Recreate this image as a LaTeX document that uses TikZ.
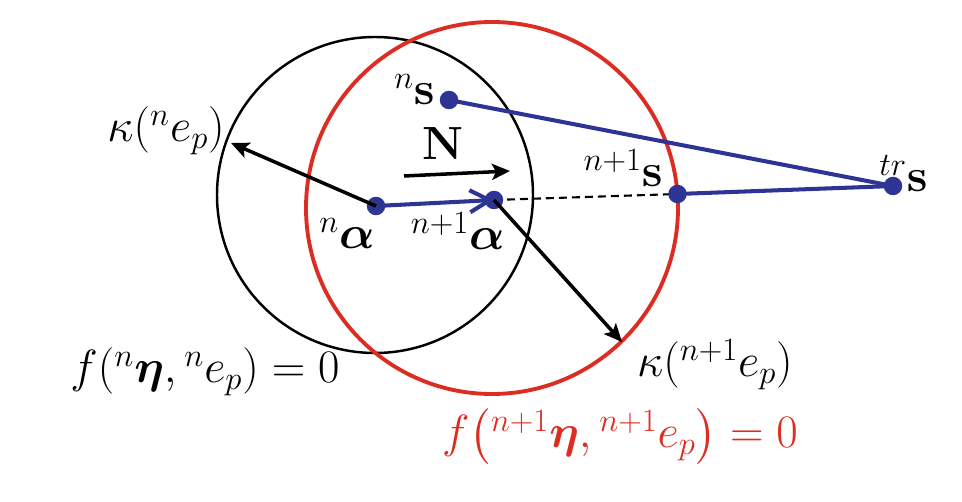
\documentclass[tikz,border=0pt]{standalone}
\usepackage{fix-cm}
\usepackage{xcolor}
\usepackage{tikz}
\usetikzlibrary{arrows.meta, positioning, calc}
\usepackage{amsmath, amssymb, bm}
\definecolor{surfred}{RGB}{221,45,35}
\definecolor{ptblue}{RGB}{46,52,148}
\tikzset{ptdot/.style={circle,fill=ptblue,inner sep=0pt,minimum size=0.37cm},
         lbl/.style={inner sep=0pt,font=\fontsize{26.5}{30}\selectfont},
         oldsurf/.style={draw,line width=1.4pt},
         newsurf/.style={draw=surfred,line width=2.2pt},
         bluepath/.style={draw=ptblue,line width=2.3pt},
         trial/.style={draw,line width=1.2pt,dash pattern=on 0.16cm off 0.1cm},
         arrow/.style={-{Stealth[length=3.6mm,width=3.2mm,inset=0.8mm]},line width=2pt},
         bluearrow/.style={-{Straight Barb[length=4mm,width=4.4mm,line width=2.3pt]},draw=ptblue,line width=2.3pt}}

\begin{document}
\begin{tikzpicture}
    \useasboundingbox (0,0) rectangle (19.24,10.04);
    % points
    \coordinate (cold) at (7.50,6.14);
    \coordinate (cnew) at (9.84,5.88);
    \coordinate (ns) at (8.98,8.04);
    \coordinate (trs) at (17.86,6.32);
    \coordinate (n1s) at (13.55,6.16);
    \coordinate (na) at (7.52,5.92);
    \coordinate (n1a) at (9.88,6.04);
    \coordinate (ktip) at (4.62,7.18);
    \coordinate (k1tip) at (12.44,3.20);
    \coordinate (Nstart) at (8.08,6.52);
    \coordinate (Nend) at (10.20,6.62);
    % yield surfaces
    \draw[oldsurf] (cold) circle[radius=3.16];
    \draw[newsurf] (cnew) circle[radius=3.72];
    % return path
    \draw[bluepath] (ns) -- (trs);
    \draw[bluepath] (trs) -- (n1s);
    \draw[trial] (n1a) -- (n1s);
    \draw[bluearrow] (na) -- (n1a);
    \foreach \p in {ns,trs,n1s,na,n1a}
      \node[ptdot] (\p dot) at (\p) {};
    \draw[arrow] (na) -- (ktip);
    \draw[arrow] (n1a) -- (k1tip);
    \draw[arrow] (Nstart) -- (Nend);
    % labels
    \node (Nlbl) [lbl, anchor=base] at (8.85,6.84) {$\mathbf{N}$};
    \node (nslbl) [lbl, anchor=base east] at ($(ns)+(-0.28,-0.10)$) {${}^{n}\mathbf{s}$};
    \node (trslbl) [lbl, anchor=base east] at ($(trs)+(0.70,-0.12)$) {${}^{tr}\mathbf{s}$};
    \node (n1slbl) [lbl, anchor=base east] at ($(n1s)+(-0.29,0.14)$) {${}^{n+1}\mathbf{s}$};
    \node (nalbl) [lbl, anchor=base east] at ($(na)+(-0.02,-0.86)$) {${}^{n}\boldsymbol{\alpha}$};
    \node (n1albl) [lbl, anchor=base east] at ($(n1a)+(0.22,-1.00)$) {${}^{n+1}\boldsymbol{\alpha}$};
    \node (klbl) [lbl, anchor=base east] at ($(ktip)+(-0.12,0.02)$) {$\kappa({}^{n}e_p)$};
    \node (k1lbl) [lbl, anchor=base east] at ($(k1tip)+(3.42,-0.70)$) {$\kappa({}^{n+1}e_p)$};
    \node (fold) [lbl, anchor=base] at (4.10,2.38) {$f\!\left({}^{n}\boldsymbol{\eta},{}^{n}e_p\right)=0$};
    \node (fnew) [lbl, anchor=base, text=surfred] at (12.40,1.08) {$f\!\left({}^{n+1}\boldsymbol{\eta},{}^{n+1}e_p\right)=0$};
  \end{tikzpicture}
\end{document}
